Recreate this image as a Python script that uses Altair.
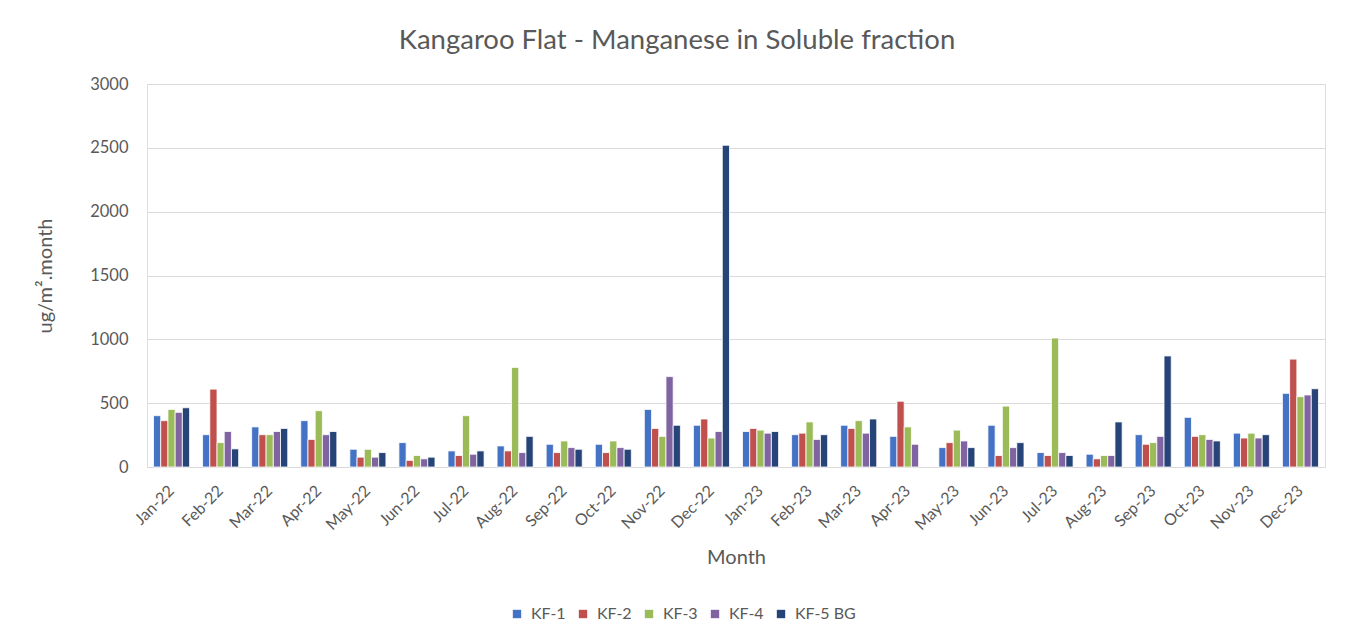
import altair as alt
import pandas as pd

months = ["Jan-22", "Feb-22", "Mar-22", "Apr-22", "May-22", "Jun-22", "Jul-22", "Aug-22",
          "Sep-22", "Oct-22", "Nov-22", "Dec-22", "Jan-23", "Feb-23", "Mar-23", "Apr-23",
          "May-23", "Jun-23", "Jul-23", "Aug-23", "Sep-23", "Oct-23", "Nov-23", "Dec-23"]
series = ["KF-1", "KF-2", "KF-3", "KF-4", "KF-5 BG"]

kf1 = [402, 253, 314, 363, 139, 191, 126, 165, 178, 178, 451, 327,
       278, 253, 327, 240, 152, 327, 113, 100, 253, 389, 265, 577]
kf2 = [363, 610, 253, 216, 77, 52, 90, 126, 113, 113, 302, 376,
       302, 265, 302, 515, 191, 90, 90, 64, 178, 240, 227, 845]
kf3 = [451, 191, 253, 441, 139, 90, 402, 780, 204, 204, 240, 227,
       289, 353, 363, 314, 289, 477, 1010, 90, 191, 253, 265, 551]
kf4 = [428, 278, 278, 253, 77, 64, 100, 113, 152, 152, 708, 278,
       265, 216, 265, 178, 204, 152, 113, 90, 240, 216, 227, 564]
kf5 = [464, 142, 302, 278, 113, 77, 126, 240, 139, 139, 327, 2520,
       278, 253, 376, None, 152, 191, 90, 353, 870, 204, 253, 613]

colors = ["#4472C4", "#C0504D", "#9BBB59", "#8064A2", "#264478"]
y_ticks = [0, 500, 1000, 1500, 2000, 2500, 3000]

rows = []
for name, vals in zip(series, [kf1, kf2, kf3, kf4, kf5]):
    for m, v in zip(months, vals):
        rows.append({"Month": m, "Site": name, "Value": v})
df = pd.DataFrame(rows)

FONT = "Lato"
GREY = "#595959"
W, H = 1178, 383

chart = alt.Chart(df).mark_bar(stroke="white", strokeWidth=0.8).encode(
    x=alt.X("Month:N", sort=months,
            scale=alt.Scale(paddingInner=0.265, paddingOuter=0.1325),
            axis=alt.Axis(title="Month", labelAngle=-45, labelAlign="right",
                          labelBaseline="middle", labelPadding=21, ticks=False,
                          domainColor="#d9d9d9", domainWidth=1,
                          labelFontSize=16, labelColor=GREY, labelFont=FONT,
                          titleFontSize=20, titleColor=GREY, titleFont=FONT,
                          titleFontWeight="normal", titleX=W / 2, titleY=90,
                          titleBaseline="middle")),
    xOffset=alt.XOffset("Site:N", sort=series,
                        scale=alt.Scale(paddingInner=0, paddingOuter=0)),
    y=alt.Y("Value:Q", scale=alt.Scale(domain=[0, 3000]),
            axis=alt.Axis(title="ug/m².month", values=y_ticks, format="d",
                          ticks=False, domain=False,
                          gridColor="#d9d9d9", gridWidth=1, labelPadding=19,
                          labelFontSize=16.5, labelColor=GREY, labelFont=FONT,
                          titleFontSize=20, titleColor=GREY, titleFont=FONT,
                          titleFontWeight="normal", titleAngle=-90, titleX=-102,
                          titleY=H / 2, titleAlign="center", titleBaseline="middle")),
    color=alt.Color("Site:N", sort=series,
                    scale=alt.Scale(domain=series, range=colors),
                    legend=alt.Legend(title=None, orient="none", direction="horizontal",
                                      legendX=362, legendY=522, symbolType="square",
                                      symbolSize=70, symbolStrokeWidth=0,
                                      labelFontSize=16, labelColor=GREY, labelFont=FONT,
                                      columnPadding=9, labelOffset=6)),
).properties(
    width=W, height=H,
    autosize=alt.AutoSizeParams(type="none"),
    padding={"left": 139, "top": 76, "right": 22, "bottom": 175},
    title=alt.TitleParams("Kangaroo Flat - Manganese in Soluble fraction",
                          anchor="middle", frame="group", dx=-59, offset=22,
                          fontSize=27.5, fontWeight="normal", color=GREY, font=FONT),
).configure_view(stroke=None).configure(background="white")

chart.save("out.html", embed_options={"renderer": "svg", "actions": False})
